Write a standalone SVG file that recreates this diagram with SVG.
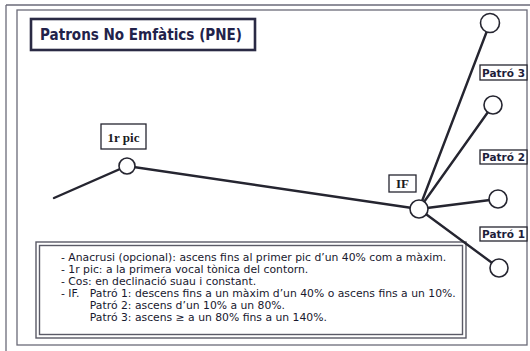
<svg xmlns="http://www.w3.org/2000/svg" width="530" height="351" viewBox="0 0 530 351">
<style>
.frame{fill:none;stroke:#6a6a78;stroke-width:1.3}
.ln{stroke:#252530;stroke-width:2.4;fill:none;stroke-linecap:round}
.node{fill:#fff;stroke:#252530;stroke-width:1.6}
.lbl{fill:#fff;stroke:#252530;stroke-width:1.3}
.serif{font-family:"Liberation Serif","Times New Roman",serif;font-weight:bold;font-size:13px;fill:#1a1a22}
.pat{font-family:"DejaVu Sans",Verdana,sans-serif;font-weight:bold;font-size:10.5px;fill:#1e1e3a}
.leg{font-family:"DejaVu Sans",Verdana,sans-serif;font-size:10.5px;fill:#18182e}
</style>
<rect width="530" height="351" fill="#fff"/>
<g id="frame">
<line class="frame" x1="6" y1="5" x2="6" y2="351"/>
<line class="frame" x1="6" y1="5" x2="530" y2="5"/>
<rect class="frame" x="17" y="10" width="510" height="335"/>
</g>
<g id="title">
<rect x="31" y="19" width="224" height="31" fill="#fff" stroke="#2a2a44" stroke-width="2.6"/>
<text x="40" y="40" font-family="'DejaVu Sans',Verdana,sans-serif" font-weight="bold" font-size="15" fill="#22224a" textLength="202" lengthAdjust="spacingAndGlyphs">Patrons No Emfàtics (PNE)</text>
</g>
<g id="legend">
<rect x="36" y="242" width="430" height="96" fill="#fff" stroke="#5a5a66" stroke-width="1.4"/>
<rect x="39.5" y="245.5" width="423" height="89" fill="none" stroke="#5a5a66" stroke-width="1.4"/>
<g transform="translate(61,0) scale(1.03,1)">
<text class="leg" x="0" y="261">- Anacrusi (opcional): ascens fins al primer pic d’un 40% com a màxim.</text>
<text class="leg" x="0" y="273">- 1r pic: a la primera vocal tònica del contorn.</text>
<text class="leg" x="0" y="285">- Cos: en declinació suau i constant.</text>
<text class="leg" x="0" y="297">- IF.</text>
<text class="leg" x="28" y="297">Patró 1: descens fins a un màxim d’un 40% o ascens fins a un 10%.</text>
<text class="leg" x="28" y="309">Patró 2: ascens d’un 10% a un 80%.</text>
<text class="leg" x="28" y="321">Patró 3: ascens ≥ a un 80% fins a un 140%.</text>
</g>
</g>
<g id="connectors">
<polyline class="ln" points="54,198 127,166 419,209"/>
<line class="ln" x1="419" y1="209" x2="490" y2="23" stroke-width="2"/>
<line class="ln" x1="419" y1="209" x2="493" y2="105"/>
<line class="ln" x1="419" y1="209" x2="498" y2="199" stroke-width="2"/>
<line class="ln" x1="419" y1="209" x2="499" y2="268" stroke-width="1.8"/>
</g>
<g id="pic1">
<rect class="lbl" x="101" y="124" width="45" height="25"/>
<text class="serif" x="123.5" y="141.5" text-anchor="middle">1r pic</text>
<circle class="node" cx="127" cy="166" r="8"/>
</g>
<g id="IF">
<rect class="lbl" x="389" y="175" width="27" height="17"/>
<text class="serif" x="402.5" y="188" text-anchor="middle">IF</text>
<circle class="node" cx="419" cy="209" r="9"/>
</g>
<g id="p3">
<circle class="node" cx="490" cy="23" r="9.5"/>
<rect class="lbl" x="480" y="65" width="47" height="15"/>
<text class="pat" x="503.5" y="76.5" text-anchor="middle">Patró 3</text>
</g>
<g id="p2">
<circle class="node" cx="493" cy="105" r="9"/>
<rect class="lbl" x="480" y="150" width="47" height="14"/>
<text class="pat" x="503.5" y="161" text-anchor="middle">Patró 2</text>
</g>
<g id="p1">
<circle class="node" cx="498" cy="199" r="9"/>
<rect class="lbl" x="480" y="227" width="47" height="14"/>
<text class="pat" x="503.5" y="238" text-anchor="middle">Patró 1</text>
</g>
<g id="p1b">
<circle class="node" cx="499" cy="268" r="9"/>
</g>
</svg>
